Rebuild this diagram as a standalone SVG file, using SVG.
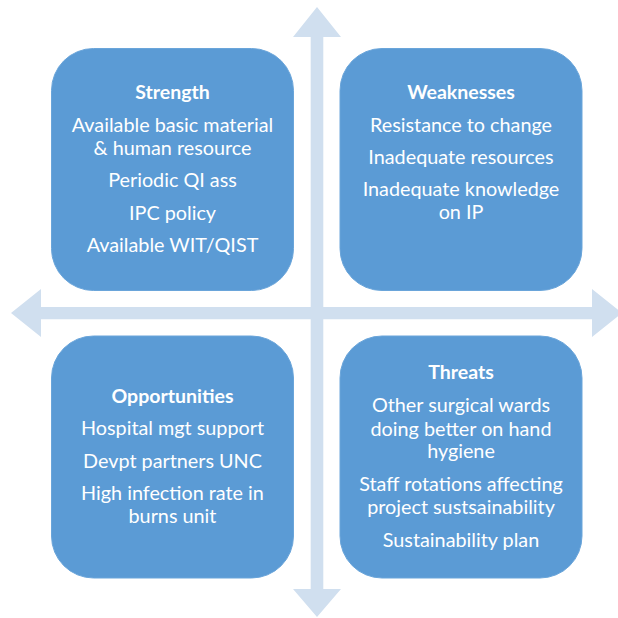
<svg xmlns="http://www.w3.org/2000/svg" width="618" height="618" viewBox="0 0 618 618">
<defs>
<style>
.box{fill:#5B9BD5;stroke:#6AA5DA;stroke-width:1}
.arrow{fill:#D0DFEF}
text{font-family:Lato,"Open Sans","Liberation Sans",sans-serif;fill:#FFFFFF;text-anchor:middle;font-size:19.8px}
.title{font-weight:bold;font-size:19.5px}
</style>
</defs>
<g id="connectors">
<polygon class="arrow" points="317,7 341,37 323.3,37 323.3,307 592,307 592,289 622,313 592,337 592,319.3 323.3,319.3 323.3,589 341,589 317,617 293,589 310.7,589 310.7,319.3 41,319.3 41,337 11,313 41,289 41,307 310.7,307 310.7,37 293,37"/>
</g>
<g id="strength">
<rect class="box" x="51.5" y="48.5" width="242" height="242" rx="42"/>
<text class="title" x="172.5" y="99">Strength</text>
<text x="172.5" y="132">Available basic material</text>
<text x="172.5" y="155">&amp; human resource</text>
<text x="172.5" y="187">Periodic QI ass</text>
<text x="172.5" y="220">IPC policy</text>
<text x="172.5" y="252">Available WIT/QIST</text>
</g>
<g id="weaknesses">
<rect class="box" x="340" y="48.5" width="242" height="242" rx="42"/>
<text class="title" x="461" y="99">Weaknesses</text>
<text x="461" y="132">Resistance to change</text>
<text x="461" y="164">Inadequate resources</text>
<text x="461" y="196">Inadequate knowledge</text>
<text x="461" y="219">on IP</text>
</g>
<g id="opportunities">
<rect class="box" x="51.5" y="336" width="242" height="242" rx="42"/>
<text class="title" x="172.5" y="403">Opportunities</text>
<text x="172.5" y="435">Hospital mgt support</text>
<text x="172.5" y="468">Devpt partners UNC</text>
<text x="172.5" y="500">High infection rate in</text>
<text x="172.5" y="523">burns unit</text>
</g>
<g id="threats">
<rect class="box" x="340" y="336" width="242" height="242" rx="42"/>
<text class="title" x="461" y="379">Threats</text>
<text x="461" y="412">Other surgical wards</text>
<text x="461" y="436">doing better on hand</text>
<text x="461" y="458">hygiene</text>
<text x="461" y="491">Staff rotations affecting</text>
<text x="461" y="514">project sustsainability</text>
<text x="461" y="547">Sustainability plan</text>
</g>
</svg>
